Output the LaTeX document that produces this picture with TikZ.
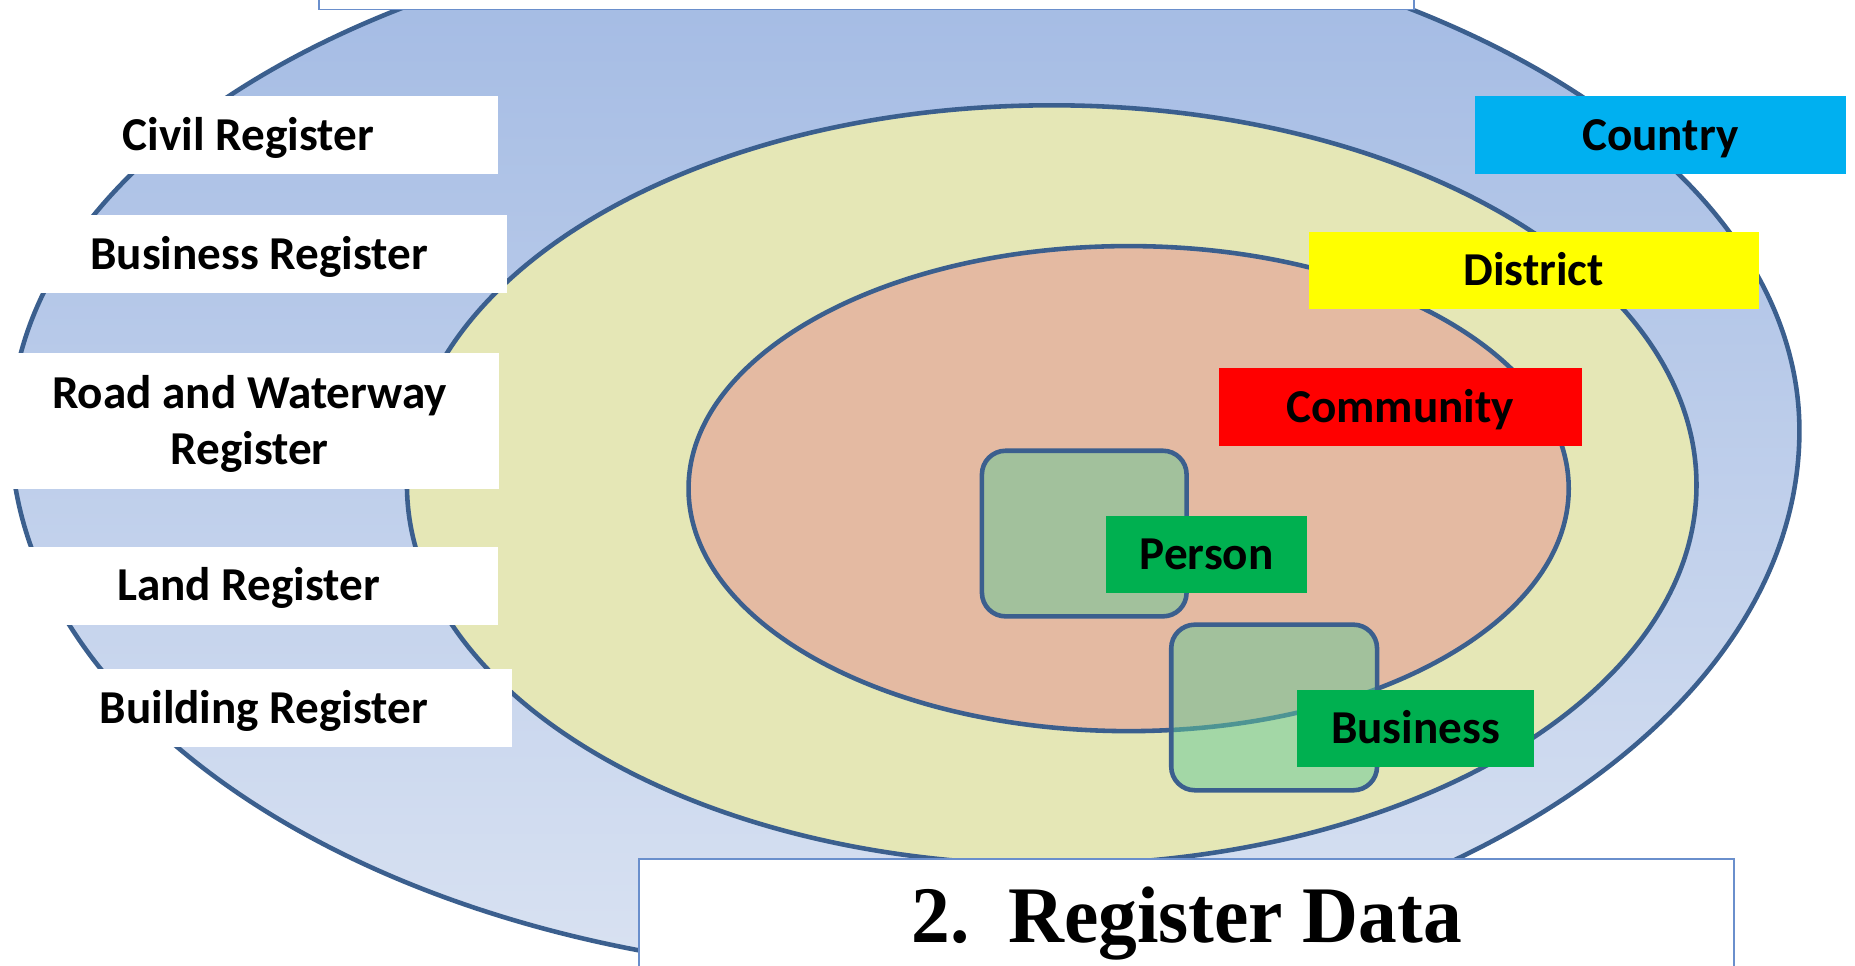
\documentclass[tikz,border=0pt]{standalone}
\usepackage{fontspec}
\setmainfont{Carlito}
\newfontfamily\titlefont{Liberation Serif}
\definecolor{edgeblue}{HTML}{3B5F8E}
\definecolor{ctop}{HTML}{A1B9E3}
\definecolor{cbot}{HTML}{D9E2F2}
\definecolor{distfill}{HTML}{E5E7B6}
\definecolor{commfill}{HTML}{E4BAA2}
\definecolor{greenfill}{HTML}{62C998}
\definecolor{countrycol}{HTML}{00B0F0}
\definecolor{districtcol}{HTML}{FFFF00}
\definecolor{communitycol}{HTML}{FF0000}
\definecolor{entitycol}{HTML}{00B050}
\definecolor{boxline}{HTML}{6A8FCC}
\begin{document}
\begin{tikzpicture}[x=0.02cm,y=-0.02cm,
  ring/.style={draw=edgeblue,line width=2.2pt},
  entity/.style={draw=edgeblue,line width=2.2pt,rounded corners=0.4cm,fill=greenfill,fill opacity=0.5},
  lab/.style={inner sep=0pt,font=\fontsize{22.7}{27.2}\selectfont\bfseries,text=black,
    align=center,text height=14.6pt,text depth=0pt,minimum height=1.32cm},
  wlab/.style={lab,fill=white},
  frame/.style={fill=white,draw=boxline,line width=0.9pt}]
\useasboundingbox (0,0) rectangle (1568,816);
\clip (0,0) rectangle (1568,816);
% outer ring (country)
\shade[top color=ctop,bottom color=cbot]
  (9,364) arc[start angle=180,end angle=0,x radius=756,y radius=460]
          arc[start angle=0,end angle=-180,x radius=756,y radius=432] -- cycle;
\draw[ring]
  (9,364) arc[start angle=180,end angle=0,x radius=756,y radius=460]
          arc[start angle=0,end angle=-180,x radius=756,y radius=432] -- cycle;
% district ring
\fill[distfill] (889,410) ellipse [x radius=545, y radius=321];
\draw[ring] (889,410) ellipse [x radius=545, y radius=321];
% community ring
\fill[commfill] (954,413) ellipse [x radius=372, y radius=205];
\draw[ring] (954,413) ellipse [x radius=372, y radius=205];
% entity boxes
\draw[entity] (830,381) rectangle (1003,521);
\draw[entity] (990,528) rectangle (1164,668);
% register labels
\node[wlab,minimum width=8.44cm] (civil) at (210,114) {Civil Register};
\node[wlab,minimum width=8.40cm] (busreg) at (219,215) {Business Register};
\node[wlab,minimum width=8.44cm,minimum height=2.30cm] (road) at (211,355.5) {};
\node[anchor=base,inner sep=0pt,font=\fontsize{22.7}{27.2}\selectfont\bfseries] (roadtext) at (211,393)
  {\begin{tabular}[b]{@{}c@{}}Road and Waterway\\Register\end{tabular}};
\node[wlab,minimum width=8.44cm] (land) at (210,495) {Land Register};
\node[wlab,minimum width=8.40cm] (building) at (223,598.5) {Building Register};
% level labels
\node[lab,fill=countrycol,minimum width=6.26cm] (country) at (1403.5,114) {Country};
\node[lab,fill=districtcol,minimum width=7.62cm,minimum height=1.30cm] (district) at (1296.5,228.5) {District};
\node[lab,fill=communitycol,minimum width=6.14cm] (community) at (1183.5,344) {Community};
\node[lab,fill=entitycol,minimum width=3.40cm,minimum height=1.30cm] (person) at (1020,468.5) {Person};
\node[lab,fill=entitycol,minimum width=4.02cm,minimum height=1.30cm] (business) at (1196.5,615.5) {Business};
% frames
\draw[frame] (270,-20) rectangle (1195,8);
\draw[frame] (540,726) rectangle (1466,840);
\node[anchor=base,inner sep=0pt] (title) at (1003,797)
  {\scalebox{0.965}[1]{\titlefont\fontsize{38.6}{40}\selectfont\bfseries 2.\ \ Register Data}};
\end{tikzpicture}
\end{document}
